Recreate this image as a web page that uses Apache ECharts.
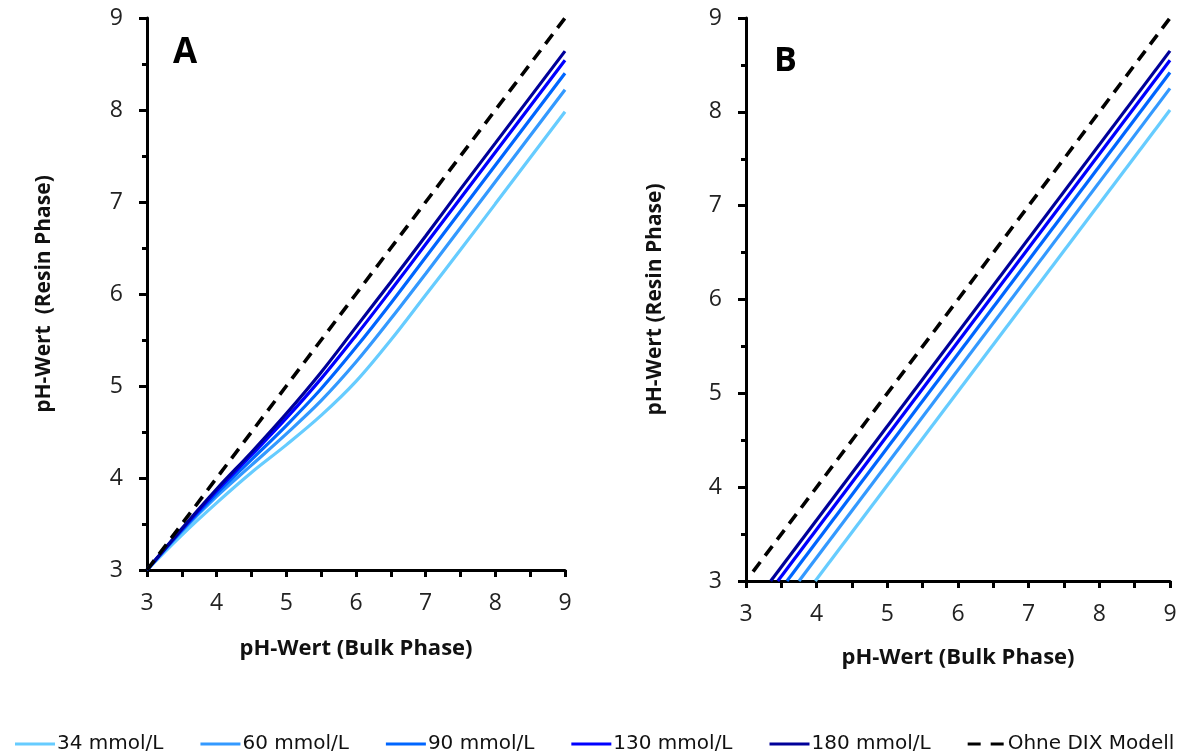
<!DOCTYPE html>
<html>
<head>
<meta charset="utf-8">
<script src="https://cdn.jsdelivr.net/npm/echarts@6/dist/echarts.min.js"></script>
<style>html,body{margin:0;padding:0;background:#fff;}#c{width:1184px;height:755px;}</style>
</head>
<body>
<div id="c"></div>
<script>
// ---- Data ----
const seriesNames = ['34 mmol/L', '60 mmol/L', '90 mmol/L', '130 mmol/L', '180 mmol/L', 'Ohne DIX Modell'];
const colors = ['#66CCFF', '#3399FF', '#0066FF', '#0000FF', '#000099', '#000000'];
const axisTicks = [3, 4, 5, 6, 7, 8, 9];

// Panel A: pH bulk (x) and pH resin (y) for each concentration
const xA = [3, 3.5, 4, 4.5, 5, 5.5, 6, 6.5, 7, 7.5, 8, 8.5, 9];
const a34 = [3, 3.38, 3.73, 4.06, 4.36, 4.68, 5.05, 5.50, 5.99, 6.48, 6.98, 7.48, 7.98];
const a60 = [3, 3.42, 3.80, 4.14, 4.48, 4.84, 5.26, 5.73, 6.22, 6.72, 7.22, 7.72, 8.22];
const a90 = [3, 3.43, 3.83, 4.20, 4.57, 4.97, 5.42, 5.90, 6.40, 6.90, 7.40, 7.90, 8.40];
const a130 = [3, 3.44, 3.86, 4.25, 4.65, 5.08, 5.55, 6.04, 6.54, 7.04, 7.54, 8.04, 8.54];
const a180 = [3, 3.45, 3.88, 4.28, 4.70, 5.15, 5.64, 6.13, 6.63, 7.14, 7.64, 8.14, 8.64];
const aNoDix = [3, 3.5, 4, 4.5, 5, 5.5, 6, 6.5, 7, 7.5, 8, 8.5, 9];

// Panel B: straight lines, [pH bulk, pH resin] end points
const b34 = [[3.98, 3], [9, 8.02]];
const b60 = [[3.75, 3], [9, 8.25]];
const b90 = [[3.58, 3], [9, 8.42]];
const b130 = [[3.45, 3], [9, 8.55]];
const b180 = [[3.35, 3], [9, 8.65]];
const bNoDix = [[3.1, 3.1], [9, 9]];

const panelA = [a34, a60, a90, a130, a180, aNoDix];
const panelB = [b34, b60, b90, b130, b180, bNoDix];

// ---- Chart ----
const chart = echarts.init(document.getElementById('c'));
const numFont = 'Open Sans';

function xAxisCfg(gridIndex) {
  return {
    type: 'value', gridIndex: gridIndex, min: 3, max: 9, interval: 1,
    name: 'pH-Wert (Bulk Phase)', nameLocation: 'middle', nameGap: gridIndex === 0 ? 68 : 66,
    nameTextStyle: { fontFamily: numFont, fontWeight: 'bold', fontSize: 22, color: '#111' },
    axisLine: { show: true, onZero: false, lineStyle: { color: '#000', width: 3 } },
    axisTick: { show: true, inside: false, length: 7, lineStyle: { color: '#000', width: 3 } },
    minorTick: { show: true, splitNumber: 2, length: 7, lineStyle: { color: '#000', width: 3 } },
    splitLine: { show: false },
    axisLabel: { fontFamily: numFont, fontSize: 23, color: '#222', margin: 22,
      formatter: function (v) { return axisTicks.indexOf(v) >= 0 ? String(v) : ''; } }
  };
}
function yAxisCfg(gridIndex) {
  return {
    type: 'value', gridIndex: gridIndex, min: 3, max: 9, interval: 1,
    name: gridIndex === 0 ? 'pH-Wert  (Resin Phase)' : 'pH-Wert (Resin Phase)',
    nameLocation: 'middle', nameGap: gridIndex === 0 ? 92 : 80,
    nameTextStyle: { fontFamily: numFont, fontWeight: 'bold', fontSize: 21, color: '#111' },
    axisLine: { show: true, onZero: false, lineStyle: { color: '#000', width: 3 } },
    axisTick: { show: true, inside: false, length: 8, lineStyle: { color: '#000', width: 3 } },
    minorTick: { show: true, splitNumber: 2, length: 5, lineStyle: { color: '#000', width: 3 } },
    splitLine: { show: false },
    axisLabel: { fontFamily: numFont, fontSize: 23, color: '#222', margin: 24 }
  };
}

const series = [];
seriesNames.forEach(function (name, i) {
  const dashed = i === seriesNames.length - 1;
  const ls = { color: colors[i], width: dashed ? 3.6 : 3.2, type: dashed ? [12, 8] : 'solid' };
  series.push({
    name: name, type: 'line', xAxisIndex: 0, yAxisIndex: 0,
    data: xA.map(function (x, k) { return [x, panelA[i][k]]; }),
    smooth: dashed ? false : 0.35, symbol: 'none', lineStyle: ls, itemStyle: { color: colors[i] },
    clip: true, z: 2 + i
  });
  series.push({
    name: name, type: 'line', xAxisIndex: 1, yAxisIndex: 1,
    data: panelB[i], symbol: 'none', lineStyle: ls, itemStyle: { color: colors[i] },
    clip: true, z: 2 + i
  });
});

const legendData = seriesNames.map(function (n, i) {
  return {
    name: n,
    icon: i === seriesNames.length - 1 ? 'path://M0,0H13V3H0Z M23,0H36V3H23Z' : 'rect',
    itemStyle: { color: colors[i] }
  };
});

chart.setOption({
  animation: false,
  backgroundColor: '#fff',
  grid: [
    { left: 147, top: 18, width: 418, height: 552 },
    { left: 746, top: 18, width: 424, height: 563 }
  ],
  xAxis: [xAxisCfg(0), xAxisCfg(1)],
  yAxis: [yAxisCfg(0), yAxisCfg(1)],
  legend: {
    data: legendData, left: 10, top: 729, width: 1180, itemWidth: 40, itemHeight: 3, itemGap: 37,
    textStyle: { fontFamily: 'DejaVu Sans', fontSize: 20, color: '#111', padding: [0, 0, 0, -3] }
  },
  graphic: [
    { type: 'text', left: 173, top: 36, style: { text: 'A', font: 'bold 35px "Open Sans"', fill: '#000' } },
    { type: 'text', left: 774, top: 44, style: { text: 'B', font: 'bold 34px "Open Sans"', fill: '#000' } }
  ],
  series: series
});
</script>
</body>
</html>
